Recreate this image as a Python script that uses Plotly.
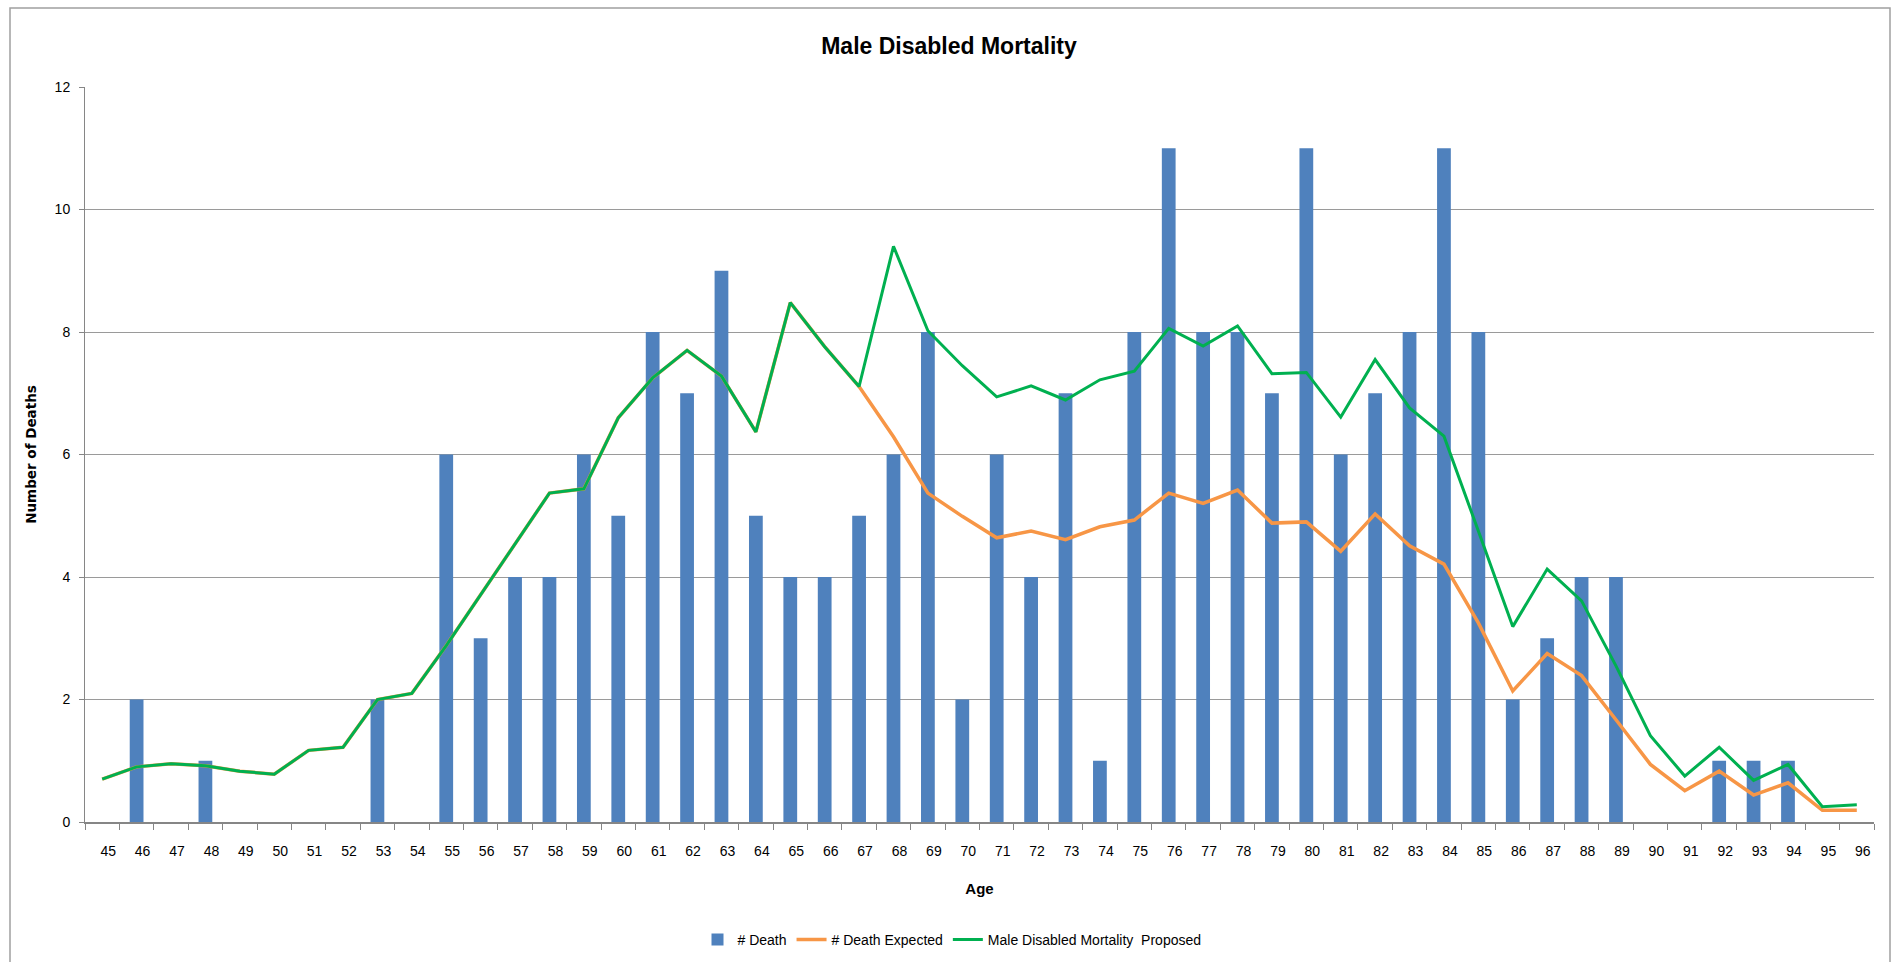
import plotly.graph_objects as go

ages = [str(a) for a in range(45, 97)]

deaths = [0, 2, 0, 1, 0, 0, 0, 0, 2, 0,
          6, 3, 4, 4, 6, 5, 8, 7, 9, 5,
          4, 4, 5, 6, 8, 2, 6, 4, 7, 1,
          8, 11, 8, 8, 7, 11, 6, 7, 8, 11,
          8, 2, 3, 4, 4, 0, 0, 1, 1, 1,
          0, 0]

proposed = [0.70, 0.90, 0.95, 0.92, 0.83, 0.78, 1.17, 1.22, 2.00, 2.10,
            2.88, 3.71, 4.55, 5.37, 5.44, 6.60, 7.25, 7.70, 7.28, 6.37,
            8.48, 7.76, 7.11, 9.40, 8.02, 7.45, 6.94, 7.12, 6.89, 7.22,
            7.36, 8.06, 7.77, 8.10, 7.32, 7.34, 6.61, 7.55, 6.76, 6.30,
            4.75, 3.19, 4.13, 3.61, 2.55, 1.41, 0.75, 1.22, 0.68, 0.94,
            0.25, 0.28]

expected = [0.70, 0.90, 0.95, 0.92, 0.83, 0.78, 1.17, 1.22, 2.00, 2.10,
            2.88, 3.71, 4.55, 5.37, 5.44, 6.60, 7.25, 7.70, 7.28, 6.37,
            8.48, 7.76, 7.11, 6.29, 5.37, 4.99, 4.64, 4.75, 4.61, 4.82,
            4.93, 5.37, 5.20, 5.42, 4.88, 4.90, 4.42, 5.03, 4.51, 4.21,
            3.25, 2.14, 2.75, 2.39, 1.67, 0.94, 0.51, 0.83, 0.44, 0.64,
            0.19, 0.19]

W, H = 1896, 962
L, R, T, B = 85, 22, 87, 140
pw, ph = W - L - R, H - T - B

def px_x(p):
    return (p - L) / pw

def px_y(p):
    return (H - B - p) / ph

NARROW = "Liberation Sans Narrow, Arial Narrow, Liberation Sans, Arial, sans-serif"

fig = go.Figure()
fig.add_trace(go.Bar(x=ages, y=deaths, name="# Death",
                     marker=dict(color="#4F81BD", line=dict(width=0))))
fig.add_trace(go.Scatter(x=ages, y=expected, name="# Death Expected", mode="lines",
                         line=dict(color="#F79646", width=3.5)))
fig.add_trace(go.Scatter(x=ages, y=proposed, name="Male Disabled Mortality  Proposed", mode="lines",
                         line=dict(color="#00B050", width=3)))

fig.update_layout(
    width=W, height=H,
    margin=dict(l=L, r=R, t=T, b=B, autoexpand=False),
    paper_bgcolor="white", plot_bgcolor="white",
    bargap=0.6,
    font=dict(family=NARROW, size=14, color="#000000"),
    title=dict(text="<b>Male Disabled Mortality</b>", x=949 / W, xanchor="center",
               y=1 - 46 / H, yanchor="middle",
               font=dict(family=NARROW, size=23, color="#000000")),
    legend=dict(orientation="h", x=px_x(952), xanchor="center", y=px_y(940), yanchor="middle",
                font=dict(family=NARROW, size=14), itemwidth=30, tracegroupgap=0),
    showlegend=True,
)

fig.update_xaxes(
    type="category", range=[-0.5, len(ages) - 0.5],
    showline=True, linecolor="#868686", linewidth=1.5,
    ticks="outside", tickson="boundaries", ticklen=6, tickcolor="#868686",
    showgrid=False, ticklabelstandoff=15, ticklabelshift=6,
    tickfont=dict(family=NARROW, size=14),
    title=dict(text="<b>Age</b>", font=dict(family=NARROW, size=15), standoff=26),
)
fig.update_yaxes(
    range=[0, 12], dtick=2, tick0=0,
    showline=True, linecolor="#868686", linewidth=1,
    ticks="outside", ticklen=5, tickcolor="#868686",
    showgrid=True, gridcolor="#9A9A9A", gridwidth=1.2,
    zeroline=False, ticklabelstandoff=6,
    tickfont=dict(family=NARROW, size=14),
    title=dict(text="<b>Number of Deaths</b>", font=dict(family="DejaVu Sans", size=13.5), standoff=14),
)

fig.add_shape(type="rect", xref="paper", yref="paper",
              x0=px_x(10), x1=px_x(1890), y0=px_y(975), y1=px_y(8),
              line=dict(color="#A0A0A0", width=1.5), fillcolor="rgba(0,0,0,0)", layer="below")

fig.write_html("out.html", config={"displayModeBar": False},
               post_script="document.body.style.margin='0';document.body.style.overflow='hidden';")
